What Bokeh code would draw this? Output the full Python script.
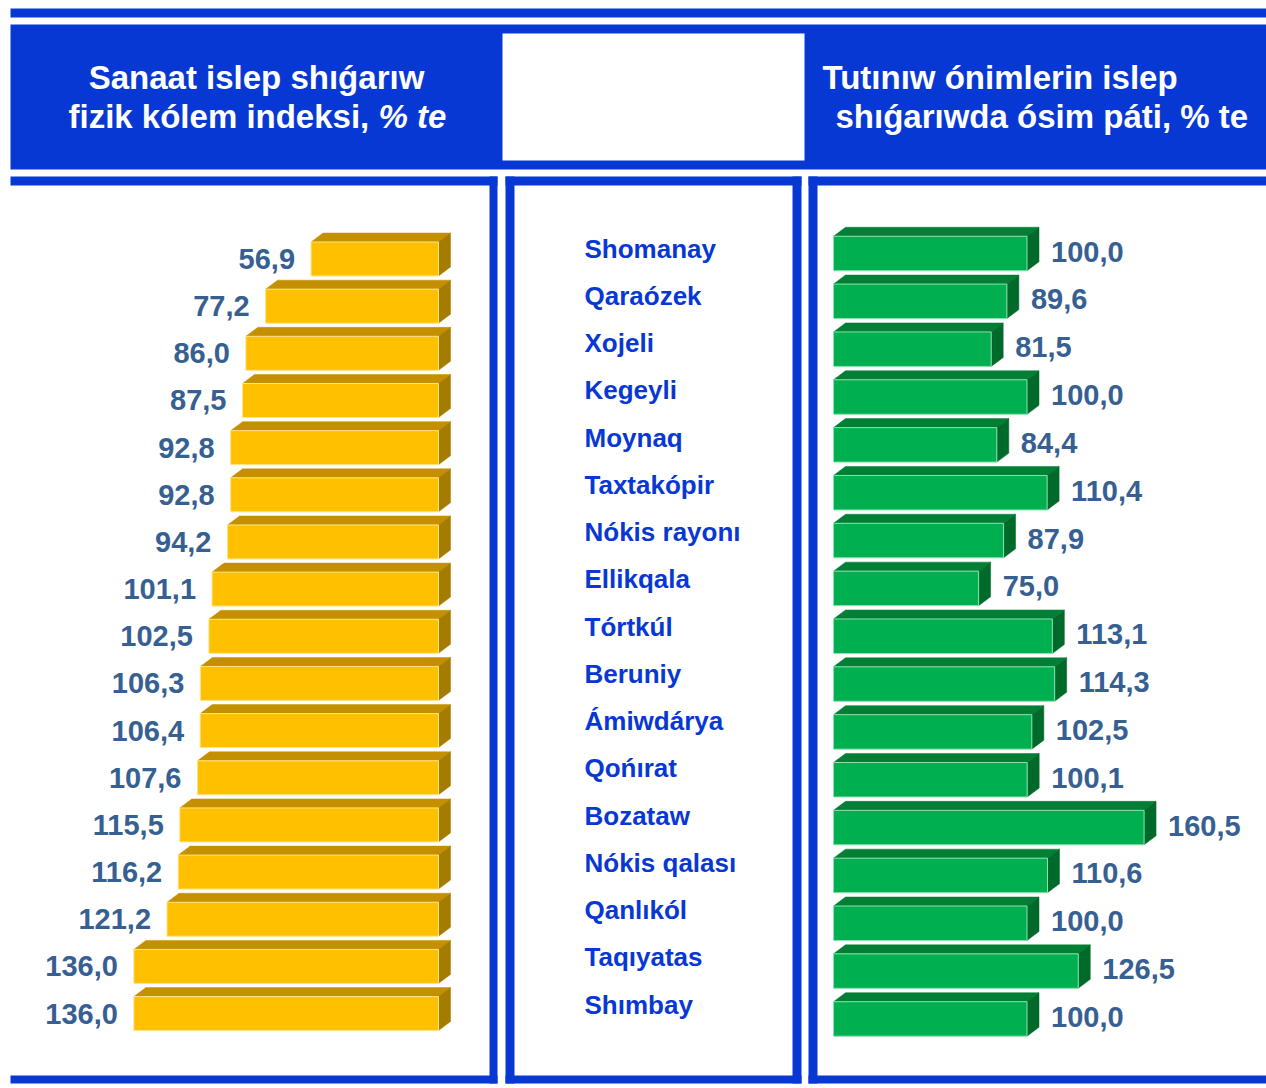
from bokeh.plotting import figure
from bokeh.models import Range1d, ColumnDataSource
from bokeh.core.properties import value
from bokeh.embed import file_html
from bokeh.resources import INLINE

# ---------------- data ----------------
districts = ["Shomanay", "Qaraózek", "Xojeli", "Kegeyli", "Moynaq", "Taxtakópir",
             "Nókis rayonı", "Ellikqala", "Tórtkúl", "Beruniy", "Ámiwdárya",
             "Qońırat", "Bozataw", "Nókis qalası", "Qanlıkól", "Taqıyatas", "Shımbay"]
industrial_index = [56.9, 77.2, 86.0, 87.5, 92.8, 92.8, 94.2, 101.1, 102.5, 106.3,
                    106.4, 107.6, 115.5, 116.2, 121.2, 136.0, 136.0]
consumer_growth = [100.0, 89.6, 81.5, 100.0, 84.4, 110.4, 87.9, 75.0, 113.1, 114.3,
                   102.5, 100.1, 160.5, 110.6, 100.0, 126.5, 100.0]
left_title = ["Sanaat islep shıǵarıw", "fizik kólem indeksi,", "% te"]
right_title = ["Tutınıw ónimlerin islep", "shıǵarıwda ósim páti, % te"]

# ---------------- style / layout ----------------
FONT = value("Liberation Sans")
BLUE = "#0838D4"
LABEL = "#376092"
W, H = 1266, 1088
X0, Y0 = 0, 0

def fmt(v):
    return f"{v:.1f}".replace(".", ",")

p = figure(width=W, height=H, output_backend="svg", toolbar_location=None,
           x_range=Range1d(X0, X0 + W), y_range=Range1d(Y0 + H, Y0),
           min_border=0, x_axis_location=None, y_axis_location=None)
p.grid.visible = False
p.outline_line_color = None
p.background_fill_color = "white"
p.border_fill_color = "white"

# scales for the two bar panels (pixels per unit, zero position)
kL, zeroL = 2.24, 438
kR, zeroR = 1.935, 833
pitchL, rowL0 = 47.16, 258.5
pitchR, rowR0 = 47.84, 253
pitchN, rowN0 = 47.25, 248

p.extra_x_ranges = {
    "left": Range1d((zeroL - X0) / kL, (zeroL - (X0 + W)) / kL),
    "right": Range1d((X0 - zeroR) / kR, (X0 + W - zeroR) / kR),
}
p.extra_y_ranges = {
    "rowsL": Range1d((Y0 + H - rowL0) / pitchL, (Y0 - rowL0) / pitchL),
    "rowsR": Range1d((Y0 + H - rowR0) / pitchR, (Y0 - rowR0) / pitchR),
    "rowsN": Range1d((Y0 + H - rowN0) / pitchN, (Y0 - rowN0) / pitchN),
}

# ---------------- frames (decoration) ----------------
frames = [
    (10, 1266, 8, 17),      # top strip
    (10, 1266, 24, 169),    # header band
    (10, 497, 176, 185), (489, 497, 176, 1083), (10, 497, 1075, 1083),
    (505, 801, 176, 185), (505, 514, 176, 1083), (792, 801, 176, 1083), (505, 801, 1075, 1083),
    (808, 1266, 176, 185), (808, 817, 176, 1083), (808, 1266, 1075, 1083),
]
p.quad(left=[f[0] for f in frames], right=[f[1] for f in frames],
       top=[f[2] for f in frames], bottom=[f[3] for f in frames],
       fill_color=BLUE, line_color=None)
p.quad(left=[502], right=[804], top=[33], bottom=[160], fill_color="white", line_color=None)

# ---------------- 3D bars ----------------
def bars(vals, k, pitch, h_px, sign, xr_name, yr_name, front, topc, sidec, edge):
    dx, dy = 12, 9
    h = h_px / pitch / 2
    du = sign * dx / k
    dv = dy / pitch
    rows = list(range(len(vals)))
    tx, ty, sx, sy = [], [], [], []
    for i, v in zip(rows, vals):
        xl, xr = (0, v) if sign > 0 else (v, 0)
        t, b = i - h, i + h
        tx.append([xl, xr, xr + du, xl + du]); ty.append([t, t, t - dv, t - dv])
        sx.append([xr, xr + du, xr + du, xr]); sy.append([t, t - dv, b - dv, b])
    p.patches(tx, ty, fill_color=topc, line_color=topc, line_width=0.5,
              x_range_name=xr_name, y_range_name=yr_name)
    p.patches(sx, sy, fill_color=sidec, line_color=sidec, line_width=0.5,
              x_range_name=xr_name, y_range_name=yr_name)
    p.hbar(y=rows, left=0, right=vals, height=2 * h, fill_color=front,
           line_color=edge, line_width=1, x_range_name=xr_name, y_range_name=yr_name)
    return rows

rowsL = bars(industrial_index, kL, pitchL, 34, -1, "left", "rowsL",
             "#FFC000", "#C49000", "#A67C00", "#FFE38A")
rowsR = bars(consumer_growth, kR, pitchR, 34.5, 1, "right", "rowsR",
             "#00B050", "#007F35", "#006A2A", "#8FE0AE")

# value labels
srcL = ColumnDataSource(dict(x=[v + 16 / kL for v in industrial_index], y=rowsL,
                             t=[fmt(v) for v in industrial_index]))
p.text(x="x", y="y", text="t", source=srcL, x_range_name="left", y_range_name="rowsL",
       text_align="right", text_baseline="middle", text_font=FONT,
       text_font_style="bold", text_font_size="29px", text_color=LABEL)
srcR = ColumnDataSource(dict(x=[v + 24 / kR for v in consumer_growth],
                             y=[r - 2 / pitchR for r in rowsR],
                             t=[fmt(v) for v in consumer_growth]))
p.text(x="x", y="y", text="t", source=srcR, x_range_name="right", y_range_name="rowsR",
       text_align="left", text_baseline="middle", text_font=FONT,
       text_font_style="bold", text_font_size="29px", text_color=LABEL)

# district names
p.text(x=[584] * len(districts), y=list(range(len(districts))), text=districts,
       y_range_name="rowsN", text_align="left", text_baseline="middle",
       text_font=FONT, text_font_style="bold", text_font_size="26px", text_color=BLUE)

# ---------------- headers ----------------
p.text(x=[256], y=[77], text=[left_title[0]], text_align="center", text_baseline="middle",
       text_font=FONT, text_font_style="bold", text_font_size="33px", text_color="white")
p.text(x=[68], y=[116], text=[left_title[1]], text_align="left", text_baseline="middle",
       text_font=FONT, text_font_style="bold", text_font_size="33px", text_color="white")
p.text(x=[378], y=[116], text=[left_title[2]], text_align="left", text_baseline="middle",
       text_font=FONT, text_font_style="bold italic", text_font_size="33px", text_color="white")
p.text(x=[822, 835], y=[77, 116], text=right_title, text_align="left", text_baseline="middle",
       text_font=FONT, text_font_style="bold", text_font_size="33px", text_color="white")

open("out.html", "w").write(file_html(p, INLINE))
